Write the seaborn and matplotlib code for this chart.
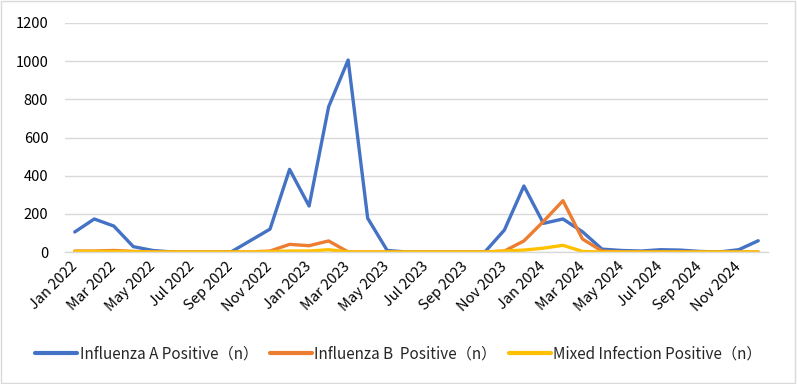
import matplotlib
matplotlib.use("Agg")
import matplotlib.pyplot as plt
import seaborn as sns
import pandas as pd
import numpy as np
from matplotlib.patches import Rectangle

months = [f"{m} {y}" for y in (2022, 2023, 2024)
          for m in ["Jan", "Feb", "Mar", "Apr", "May", "Jun",
                    "Jul", "Aug", "Sep", "Oct", "Nov", "Dec"]]

flu_a = [105, 173, 136, 28, 8, 0, 0, 0, 0, 60, 120, 433,
         241, 761, 1006, 177, 8, 0, 0, 0, 0, 0, 115, 346,
         150, 173, 106, 15, 8, 5, 12, 10, 3, 0, 12, 59]
flu_b = [5, 5, 8, 3, 0, 0, 0, 0, 0, 0, 5, 40,
         33, 58, 0, 0, 0, 0, 0, 0, 0, 0, 5, 58,
         160, 269, 68, 5, 0, 0, 0, 0, 0, 0, 0, 0]
mixed = [3, 3, 3, 2, 0, 0, 0, 0, 0, 0, 2, 5,
         5, 12, 0, 0, 0, 0, 0, 0, 0, 0, 5, 10,
         20, 35, 3, 0, 0, 0, 0, 0, 0, 0, 0, 0]

series_names = ["Influenza A Positive（n）",
                "Influenza B  Positive（n）",
                "Mixed Infection Positive（n）"]
colors = ["#4472C4", "#ED7D31", "#FFC000"]

sns.set_theme(style="white")
plt.rcParams['font.family'] = ['Noto Sans CJK SC', 'DejaVu Sans']

df = pd.DataFrame({
    "idx": list(range(36)) * 3,
    "value": flu_a + flu_b + mixed,
    "series": [series_names[0]] * 36 + [series_names[1]] * 36 + [series_names[2]] * 36,
})

fig = plt.figure(figsize=(7.97, 3.84), dpi=100)
ax = fig.add_axes([65 / 797, 1 - 252 / 384, 703 / 797, 229 / 384])

sns.lineplot(data=df, x="idx", y="value", hue="series", palette=colors,
             hue_order=series_names, linewidth=2.4, ax=ax, sort=False,
             legend=True)

ax.set_xlim(-0.5, 35.5)
ax.set_ylim(0, 1200)
ax.set_yticks(range(0, 1201, 200))
ax.yaxis.grid(True, color="#D9D9D9", linewidth=1)
ax.set_axisbelow(True)
for s in ["left", "right", "top"]:
    ax.spines[s].set_visible(False)
ax.spines["bottom"].set_color("#D9D9D9")
ax.spines["bottom"].set_linewidth(1)

ax.set_xticks(range(0, 36, 2))
ax.set_xticklabels([months[i] for i in range(0, 36, 2)], rotation=45,
                   ha="right", va="center", rotation_mode="anchor",
                   fontsize=10.5, color="#000000")
ax.tick_params(axis="x", which="major", length=0, pad=9)
ax.set_xticks(np.arange(-0.5, 36, 2), minor=True)
ax.tick_params(axis="x", which="minor", length=5, color="#D9D9D9", width=1)
ax.tick_params(axis="y", length=0, labelsize=10.5, labelcolor="#000000", pad=12)
ax.set_xlabel("")
ax.set_ylabel("")

leg = ax.legend(loc="center", bbox_to_anchor=(0.5, (384 - 354) / 384), bbox_transform=fig.transFigure,
                ncol=3, frameon=False, fontsize=11, handlelength=2.75, handletextpad=0.15,
                columnspacing=0.8)
for line in leg.get_lines():
    line.set_linewidth(3)

fig.patches.append(Rectangle((0.001, 0.002), 0.997, 0.995, transform=fig.transFigure,
                             fill=False, edgecolor="#D9D9D9", linewidth=1))

fig.savefig("out.png", dpi=100)
